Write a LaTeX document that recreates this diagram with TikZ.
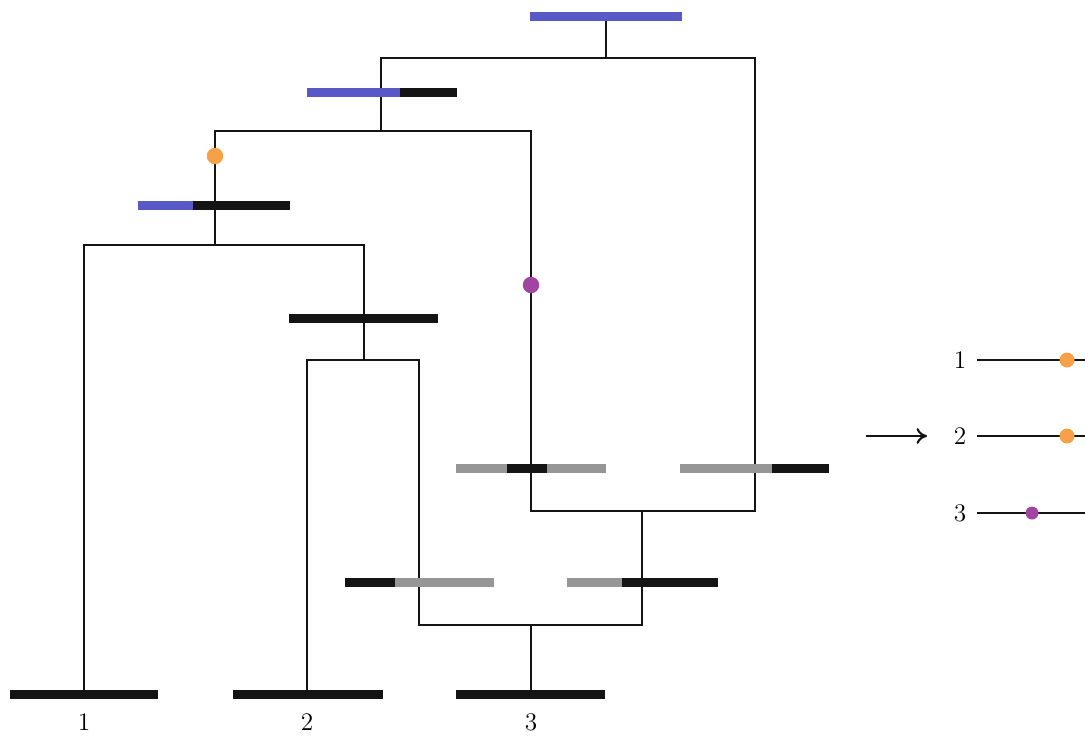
\documentclass[tikz,border=0pt]{standalone}
\usetikzlibrary{arrows.meta}
\definecolor{barblue}{RGB}{88,88,198}
\definecolor{barblack}{RGB}{20,20,20}
\definecolor{bargray}{RGB}{150,150,150}
\definecolor{dotorange}{RGB}{246,160,72}
\definecolor{dotpurple}{RGB}{160,70,160}
\begin{document}
\begin{tikzpicture}[x=0.02cm,y=-0.02cm,
    edge/.style={line width=1.1pt,barblack},
    bar/.style={line width=0.18cm},
    leaf_label/.style={font=\Large,inner sep=2pt},
    event_dot/.style={circle,inner sep=0pt,minimum size=0.33cm}]

    \useasboundingbox (0,0) rectangle (1085,738);

    % tree points
    \coordinate (top) at (606,16);
    \coordinate (j0) at (606,58);
    \coordinate (A) at (381,92);
    \coordinate (jA) at (381,131);
    \coordinate (C) at (215,205);
    \coordinate (jC) at (215,245);
    \coordinate (E) at (364,318);
    \coordinate (jE) at (364,360);
    \coordinate (F) at (419,582);
    \coordinate (G) at (642,582);
    \coordinate (jF) at (531,625);
    \coordinate (D) at (531,468);
    \coordinate (B) at (755,468);
    \coordinate (jG) at (642,511);
    \coordinate (leaf1) at (84,694);
    \coordinate (leaf2) at (307,694);
    \coordinate (leaf3) at (531,694);

    % edges
    \draw[edge] (top) -- (j0);
    \draw[edge] (A) |- (j0) -| (B);
    \draw[edge] (A) -- (jA);
    \draw[edge] (C) |- (jA) -| (D);
    \draw[edge] (C) -- (jC);
    \draw[edge] (leaf1) |- (jC) -| (E);
    \draw[edge] (E) -- (jE);
    \draw[edge] (leaf2) |- (jE) -| (F);
    \draw[edge] (F) |- (jF) -| (G);
    \draw[edge] (leaf3) -- (jF);
    \draw[edge] (G) -- (jG);
    \draw[edge] (D) |- (jG) -| (B);

    % bars
    \draw[bar,barblue] (530,16) -- (682,16);
    \draw[bar,barblue] (307,92) -- (400,92);
    \draw[bar,barblack] (400,92) -- (457,92);
    \draw[bar,barblue] (138,205) -- (193,205);
    \draw[bar,barblack] (193,205) -- (290,205);
    \draw[bar,barblack] (289,318) -- (438,318);
    \draw[bar,bargray] (456,468) -- (606,468);
    \draw[bar,barblack] (507,468) -- (547,468);
    \draw[bar,bargray] (680,468) -- (772,468);
    \draw[bar,barblack] (772,468) -- (829,468);
    \draw[bar,barblack] (345,582) -- (395,582);
    \draw[bar,bargray] (395,582) -- (494,582);
    \draw[bar,bargray] (567,582) -- (622,582);
    \draw[bar,barblack] (622,582) -- (718,582);
    \draw[bar,barblack] (10,694) -- (158,694);
    \draw[bar,barblack] (233,694) -- (383,694);
    \draw[bar,barblack] (456,694) -- (605,694);

    % events
    \node[event_dot,fill=dotorange] (ev1) at (215,156) {};
    \node[event_dot,fill=dotpurple] (ev2) at (531,285) {};

    % leaves
    \node[leaf_label] (n1) at (84,722) {1};
    \node[leaf_label] (n2) at (307,722) {2};
    \node[leaf_label] (n3) at (531,722) {3};

    % right side
    \node[leaf_label] (r1) at (960,360) {1};
    \node[leaf_label] (r2) at (960,436) {2};
    \node[leaf_label] (r3) at (960,513) {3};
    \coordinate (e1) at (1085,360);
    \coordinate (e2) at (1085,436);
    \coordinate (e3) at (1085,513);
    \coordinate (arr) at (866,436);
    \draw[edge,shorten <=4pt] (r1) -- (e1);
    \draw[edge,shorten <=4pt] (r2) -- (e2);
    \draw[edge,shorten <=4pt] (r3) -- (e3);
    \draw[edge,-{To[length=6pt,width=9pt,line width=1.2pt]},shorten >=13pt] (arr) -- (r2);
    \node[event_dot,fill=dotorange,minimum size=0.3cm] (d1) at (1067,360) {};
    \node[event_dot,fill=dotorange,minimum size=0.3cm] (d2) at (1067,436) {};
    \node[event_dot,fill=dotpurple,minimum size=0.26cm] (d3) at (1032,513) {};
\end{tikzpicture}
\end{document}
